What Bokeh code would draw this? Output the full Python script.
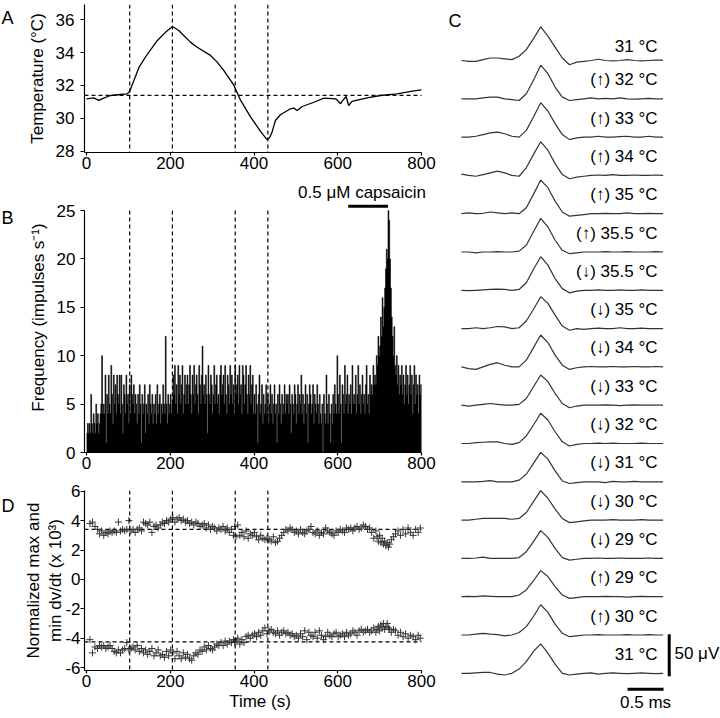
import numpy as np
from bokeh.plotting import figure
from bokeh.layouts import row, column
from bokeh.models import Range1d, FixedTicker, Span
from bokeh.core.properties import value
from bokeh.embed import file_html
from bokeh.resources import INLINE

FONT = "Liberation Sans"
FS = "17px"

# ---------------- data ----------------
EVENT_T = [103, 205, 355, 433]

# Panel A: bath temperature
TEMP_T = [0, 17, 29, 41, 57, 81, 97, 103, 113, 125, 145, 169, 189, 205, 220, 248, 264, 296, 312, 328,
          352, 368, 392, 415, 431, 437, 443, 451, 463, 487, 495, 503, 515, 543, 567, 595, 607, 610, 620, 626,
          634, 670, 702, 742, 778, 800]
TEMP_C = [31.19, 31.25, 31.09, 31.23, 31.39, 31.45, 31.49, 31.65, 32.3, 33.1, 33.9, 34.74, 35.25, 35.59, 35.35,
          34.64, 34.33, 33.83, 33.42, 32.91, 32.0, 31.09, 30.07, 29.22, 28.70, 28.82, 29.16, 29.87, 30.22, 30.58,
          30.62, 30.48, 30.72, 30.98, 31.23, 31.19, 30.89, 31.03, 31.33, 30.78, 31.03, 31.25, 31.39, 31.49, 31.65,
          31.73]
TEMP_BASE = 31.4

# Panel B: firing frequency, 2-s bins
BIN_W = 2
FREQ = [
    2, 3, 2, 3, 2, 6, 3, 2, 4, 3, 2, 5, 3, 4, 2, 3, 4, 5, 10, 4,
    5, 4, 8, 1, 6, 4, 8, 5, 4, 9, 6, 3, 8, 5, 7, 4, 8, 6, 5, 8,
    4, 8, 5, 2, 7, 6, 4, 8, 5, 6, 3, 7, 4, 8, 6, 5, 7, 4, 6, 5,
    3, 6, 4, 7, 5, 1, 6, 4, 5, 7, 2, 5, 4, 6, 3, 7, 5, 4, 6, 3,
    5, 4, 6, 3, 7, 4, 5, 6, 3, 5, 4, 7, 5, 4, 12, 5, 3, 6, 4, 5,
    6, 4, 5, 8, 6, 9, 5, 7, 4, 9, 6, 8, 5, 7, 9, 4, 6, 8, 5, 7,
    8, 5, 7, 9, 6, 4, 8, 6, 9, 5, 7, 8, 6, 4, 9, 7, 5, 8, 11, 6,
    7, 5, 8, 6, 2, 9, 6, 5, 8, 7, 4, 6, 9, 5, 7, 8, 5, 6, 4, 8,
    9, 6, 7, 8, 5, 9, 6, 4, 8, 7, 5, 9, 6, 8, 5, 7, 4, 9, 6, 7,
    8, 5, 9, 6, 7, 4, 9, 8, 5, 7, 9, 6, 4, 8, 6, 9, 5, 7, 8, 4,
    6, 4, 7, 5, 1, 6, 8, 4, 5, 7, 3, 6, 4, 5, 7, 4, 6, 3, 5, 7,
    4, 6, 3, 5, 7, 4, 5, 1, 6, 4, 7, 5, 3, 6, 4, 5, 7, 4, 6, 5,
    6, 4, 7, 5, 2, 6, 5, 4, 7, 6, 3, 5, 7, 4, 6, 5, 8, 4, 6, 3,
    5, 7, 4, 6, 1, 5, 7, 6, 4, 5, 7, 3, 6, 5, 4, 7, 5, 3, 6, 4,
    3, 5, 0, 6, 4, 3, 8, 5, 3, 6, 4, 1, 5, 3, 6, 4, 7, 5, 4, 10,
    6, 4, 8, 5, 1, 7, 6, 4, 9, 5, 6, 8, 4, 6, 5, 7, 4, 9, 5, 6,
    5, 8, 4, 6, 9, 5, 7, 4, 6, 8, 5, 6, 4, 7, 9, 5, 6, 4, 8, 6,
    7, 6, 9, 7, 8, 7, 10, 9, 12, 10, 11, 14, 12, 16, 13, 15, 17, 19, 21, 20,
    25, 24, 20, 17, 14, 12, 10, 13, 9, 8, 10, 7, 9, 6, 8, 7, 9, 6, 8, 5,
    7, 9, 6, 8, 5, 7, 9, 6, 8, 4, 7, 9, 5, 8, 6, 7, 4, 8, 6, 7,
]
CAPS_T = [625, 720]
CAPS_TEXT = "0.5 \u03bcM capsaicin"

# Panel D: normalized max / min dV/dt
D_T = [8, 14, 20, 26, 31, 36, 41, 46, 51, 56,
       61, 66, 71, 76, 81, 86, 91, 96, 101, 106,
       111, 116, 121, 126, 131, 136, 141, 146, 151, 156,
       161, 166, 171, 176, 181, 186, 191, 196, 201, 206,
       211, 216, 221, 226, 231, 236, 241, 246, 251, 256,
       261, 266, 271, 276, 281, 286, 291, 296, 301, 306,
       311, 316, 321, 326, 331, 336, 341, 346, 351, 354,
       357, 361, 366, 371, 376, 381, 386, 391, 396, 401,
       406, 411, 416, 421, 426, 431, 436, 441, 446, 451,
       456, 461, 466, 471, 476, 481, 486, 491, 496, 501,
       506, 511, 516, 521, 526, 531, 536, 541, 546, 551,
       556, 561, 566, 571, 576, 581, 586, 591, 596, 601,
       606, 611, 616, 621, 626, 631, 636, 641, 646, 651,
       656, 661, 666, 671, 676, 681, 686, 691, 694, 697,
       700, 703, 706, 709, 712, 715, 718, 721, 724, 728,
       733, 738, 744, 750, 756, 762, 768, 774, 780, 786,
       792, 797]
MAXDV = [3.8, 3.9, 3.6, 3.4, 3.1, 3.3, 3.0, 3.2, 3.1, 3.3,
         3.2, 3.3, 3.2, 3.9, 3.3, 3.4, 3.3, 3.4, 4.0, 3.3,
         3.4, 3.2, 3.4, 3.5, 3.3, 3.9, 3.8, 3.7, 3.9, 3.2,
         3.6, 3.7, 3.5, 3.7, 3.9, 3.8, 4.0, 3.9, 4.1, 4.2,
         3.9, 4.1, 4.2, 4.0, 4.1, 3.9, 4.0, 3.8, 3.9, 3.7,
         3.9, 3.8, 3.6, 3.7, 3.8, 3.5, 3.7, 3.4, 3.6, 3.5,
         3.3, 3.5, 3.4, 3.6, 3.3, 3.5, 3.2, 3.4, 3.0, 3.6,
         2.9, 3.7, 3.0, 3.2, 2.9, 3.3, 2.8, 3.1, 3.0, 3.2,
         2.9, 2.7, 3.0, 2.8, 2.7, 2.8, 2.7, 2.6, 2.9, 2.5,
         2.6, 2.8, 3.0, 3.2, 3.4, 3.3, 3.5, 3.4, 3.2, 3.3,
         3.1, 3.4, 3.2, 3.1, 3.3, 3.4, 3.6, 3.2, 3.1, 3.3,
         3.0, 3.2, 3.1, 3.5, 3.3, 3.2, 3.1, 3.0, 3.3, 3.2,
         3.4, 3.3, 3.2, 3.5, 3.4, 3.5, 3.3, 3.5, 3.6, 3.4,
         3.5, 3.7, 3.6, 3.4, 3.5, 3.2, 2.8, 3.3, 2.9, 2.6,
         3.0, 2.5, 2.8, 2.4, 2.6, 2.3, 2.5, 2.2, 2.4, 2.7,
         2.9, 3.1, 3.3, 3.0, 3.4, 3.1, 3.5, 3.2, 3.0, 3.4,
         3.2, 3.5]
MINDV = [-4.1, -5.0, -4.6, -4.7, -4.5, -4.6, -4.5, -4.7, -4.6, -4.5,
         -4.7, -4.9, -5.0, -4.8, -5.0, -4.8, -4.7, -4.3, -4.8, -4.7,
         -4.6, -4.8, -4.5, -4.9, -4.7, -5.0, -4.8, -5.1, -4.9, -4.7,
         -5.2, -5.0, -4.8, -5.2, -5.1, -5.3, -4.9, -5.2, -4.8, -5.0,
         -5.4, -4.9, -5.2, -5.4, -5.0, -5.3, -5.1, -5.4, -5.5, -5.2,
         -5.0, -5.1, -4.8, -4.9, -4.6, -4.8, -4.5, -4.7, -4.8, -4.6,
         -4.4, -4.5, -4.3, -4.5, -4.2, -4.4, -4.2, -4.3, -4.1, -4.3,
         -4.2, -4.0, -4.4, -4.1, -4.3, -3.9, -3.8, -4.0, -3.8, -3.7,
         -3.9, -3.6, -3.8, -3.5, -3.3, -3.7, -3.5, -3.4, -3.6, -3.7,
         -3.5, -3.8, -3.6, -3.5, -3.7, -3.6, -3.8, -3.7, -3.9, -3.8,
         -4.0, -3.7, -3.9, -3.5, -4.1, -3.6, -3.8, -3.9, -3.6, -4.0,
         -3.5, -3.8, -4.1, -3.9, -3.6, -3.8, -3.9, -3.7, -3.6, -3.9,
         -3.8, -3.7, -3.9, -3.6, -3.8, -3.7, -3.5, -3.6, -3.8, -3.5,
         -3.4, -3.6, -3.5, -3.4, -3.6, -3.5, -3.3, -3.6, -3.4, -3.2,
         -3.5, -3.1, -3.3, -3.0, -3.4, -3.2, -3.0, -3.3, -3.4, -3.6,
         -3.4, -3.5, -3.8, -3.6, -3.9, -3.7, -4.0, -3.8, -3.9, -4.1,
         -3.8, -4.0]
MAXDV_BASE = 3.41
MINDV_BASE = -4.25

# Panel C: averaged action potentials (ms, uV)
WAVE_T = [0.0, 0.1, 0.2, 0.3, 0.4, 0.5, 0.6, 0.7, 0.8, 0.9, 1.0, 1.1, 1.2, 1.3, 1.4,
          1.5, 1.6, 1.7, 1.8, 1.9, 2.0, 2.1, 2.2, 2.3, 2.4, 2.5, 2.6, 2.7, 2.8]
W01 = [0, -1, -1, 1, 3, 3, 2, 1, 5, 13, 26, 40, 29, 16, 3, -5, -2, -1, 0, 1.5, 0, -0.5, 0, 1, 0, -0.5, 0, 0.5, 0.5]
W02 = [0, 0, 0, 1, 2, 2, 0, -1, -2, 6, 22, 40, 30, 14, 2, -2, -1, 0, 1, 0, 0.5, 0, 1, 0, -0.5, 0, 0.5, 0, 0]
W03 = [0, 0, 1, 3, 5, 6, 4, 1, 0, 8, 24, 41, 31, 16, 3, -3, -1, 0, 0, 1, 0, 0, 0.5, 1, 0, 0, 1, 0, 0]
W04 = [1.5, 0, -1, 1, 3, 5, 3, 0, -1, 9, 25, 40, 30, 14, 1, -4, -2, -1, 0, 0.5, 0, 1, 0, 0, 0.5, 0, 0, 0.5, 0]
W05 = [0, 1, 0, 0.5, 2, 1, 0, 1, 0, 7, 23, 40, 31, 15, 2, -3, -2, -1, 0, 0, 0.5, 0, 0, 1, 0, 0, 0.5, 0, 0]
W06 = [0, 0, -1, 0, 0, 0.5, 0, 0, 1, 8, 24, 40, 30, 14, 2, -2, -1, 0, 0, 0, 0.5, 0, 0, 0.5, 0, 0, 0, 0.5, 0]
W07 = [0, -0.5, 0, 0.5, 1, 1.5, 1, 0, 1, 9, 25, 40, 30, 14, 2, -3, -1, 0, 0, 0.5, 0, 0, 0.5, 0, 0, 0.5, 0, 0, 0]
W08 = [0, 0, 1, 0, 1, 2.5, 2, 0, 1, 9, 23, 38, 30, 16, 3, -2, 0, -1, 0, 0.5, 0, 0, 1, 0, 0, 0.5, 0, 0, 0]
W09 = [0, -2, -3, 0, 3, 5, 2, 0, 0, 8, 23, 38, 29, 14, 2, -3, -1, 0, 0.5, 0, 0, 0.5, 0, 0, 0.5, 0, 0, 0.5, 0]
W10 = [0, -1, 0, 1, 2, 1, 0, 0, 1, 8, 22, 36, 28, 14, 2, -3, -1, 0, 0, 0, 0.5, 0, -0.5, 0, 0.5, 0, 0, 0, 0]
W11 = [0, 0, 1, 1.5, 2, 2, 0, -1, 1, 9, 22, 36, 28, 14, 2, -3, -1, 0, 0, 0.5, 0, 0.5, 0, 0, 0, 0.5, 0, 0, 0]
W12 = [0, 0, 0, 0.5, 1.5, 0, 0, 0, 2, 9, 22, 35, 27, 13, 1, -2, -1, 0, 0, 0, -1, 0.5, 0, 0, 0.5, 0, 0, 0, 0]
W13 = [0, 0, 1, 2, 2, 2, 2, 1, 2, 9, 22, 35, 26, 13, 2, -3, -2, -1, 0, 0, 0, 0.5, 0, 0, 0, 0.5, 0, 0, 0]
W14 = [0, 0, 0.5, 1.5, 0, 0, 0, 0, 1, 8, 20, 33, 25, 12, 1, -2, -1, 0, 0, 0.5, 0, 0, 0.5, 0, 0, 0, 0.5, 0, 0]
W15 = [0, 0.5, 0, 1, 0.5, 0, 0, 0, 2, 8, 19, 31, 24, 12, 2, -2, -1, 0, 0, 0, 0.5, 0, 0, -0.5, 0, 0.5, 0, 0, 0]
W16 = [0, 0, 1, 2, 1, 0.5, -1, 0, 3, 10, 22, 36, 27, 13, 2, -2, -1, 0, 0, 0.5, 0, 0, 0, 0.5, 0, 0, 0.5, 0, 0]
W17 = [0, 0, 0.5, 1, 1, -1, -2, 0, 5, 14, 26, 35, 24, 11, 0, -2, -1, 0, 0.5, -1, 0, 0.5, 0, -0.5, 0, 0.5, 0, -0.5, 0]
WAVES = [W01, W02, W03, W04, W05, W06, W07, W08, W09, W10, W11, W12, W13, W14, W15, W16, W17]
UP, DN = "\u2191", "\u2193"
WAVE_LABELS = ["31 \u00b0C", f"({UP}) 32 \u00b0C", f"({UP}) 33 \u00b0C", f"({UP}) 34 \u00b0C",
               f"({UP}) 35 \u00b0C", f"({UP}) 35.5 \u00b0C", f"({DN}) 35.5 \u00b0C", f"({DN}) 35 \u00b0C",
               f"({DN}) 34 \u00b0C", f"({DN}) 33 \u00b0C", f"({DN}) 32 \u00b0C", f"({DN}) 31 \u00b0C",
               f"({DN}) 30 \u00b0C", f"({DN}) 29 \u00b0C", f"({UP}) 29 \u00b0C", f"({UP}) 30 \u00b0C",
               "31 \u00b0C"]
PANEL_LETTERS = ["A", "B", "D"]

# ---------------- layout ----------------
TOTAL_W, TOTAL_H = 720, 718
STRIP_W = 16
LEFT_W = 430
FR_L = 68
PLOT_W = 337                     # px spanned by -5 .. 800 s
X_LO, X_HI = -5, 800
PX_S = PLOT_W / (X_HI - X_LO)
EXTRA_PX = 14                    # room right of 800 s for the capsaicin label
FR_R = LEFT_W - FR_L - PLOT_W - EXTRA_PX
XR = (X_LO, X_HI + EXTRA_PX / PX_S)
C_W = TOTAL_W - STRIP_W - LEFT_W


def style(p):
    p.grid.visible = False
    p.outline_line_color = None
    for ax in p.axis:
        ax.axis_line_width = 1.2
        ax.axis_line_color = "black"
        ax.major_tick_line_width = 1.2
        ax.major_tick_line_color = "black"
        ax.major_tick_in = 0
        ax.major_tick_out = 4
        ax.minor_tick_line_color = None
        ax.major_label_text_font = FONT
        ax.major_label_text_font_size = FS
        ax.major_label_text_color = "black"
        ax.axis_label_text_font = FONT
        ax.axis_label_text_font_size = FS
        ax.axis_label_text_font_style = "normal"
        ax.axis_label_text_color = "black"
    p.xaxis.major_tick_out = 3
    p.xaxis.major_label_standoff = 1
    p.xaxis.ticker = FixedTicker(ticks=[0, 200, 400, 600, 800])
    p.xaxis.bounds = (X_LO, X_HI)


def base_fig(height, yr, top, bottom):
    p = figure(width=LEFT_W, height=height, x_range=Range1d(*XR), y_range=Range1d(*yr),
               output_backend="svg", toolbar_location=None,
               min_border_left=FR_L, min_border_right=FR_R,
               min_border_top=top, min_border_bottom=bottom,
               background_fill_color="white", border_fill_color="white")
    style(p)
    return p


DASH = dict(line_color="black", line_dash="4 3", line_width=1.2)


def hdash(p, level):
    p.segment(x0=[X_LO], y0=[level], x1=[X_HI], y1=[level], **DASH)


# ---- letters strip ----
pL = figure(width=STRIP_W, height=TOTAL_H, x_range=Range1d(0, STRIP_W), y_range=Range1d(TOTAL_H, 0),
            x_axis_location=None, y_axis_location=None, output_backend="svg", toolbar_location=None,
            min_border=0, min_border_left=0, min_border_right=0, min_border_top=0, min_border_bottom=0,
            background_fill_color="white", border_fill_color="white")
pL.grid.visible = False
pL.outline_line_color = None
pL.text(x=[1, 1, 1], y=[17, 217, 505], text=PANEL_LETTERS, text_align="left", text_baseline="alphabetic",
        text_font=value(FONT), text_font_size=value("18px"), text_color="black")

# ---- Panel A ----
YA = (27.92, 36.93)
pA = base_fig(182, YA, 4, 30)
pA.yaxis.ticker = FixedTicker(ticks=[28, 30, 32, 34, 36])
pA.yaxis.axis_label = "Temperature (\u00b0C)"
pA.yaxis.major_label_standoff = 6
pA.yaxis.axis_label_standoff = 6
for t in EVENT_T:
    pA.add_layout(Span(location=t, dimension="height", **DASH))
hdash(pA, TEMP_BASE)
pA.line(TEMP_T, TEMP_C, line_color="black", line_width=1.3)

# ---- Panel B ----
YB = (0, 27.9)
pB = base_fig(296, YB, 0, 26)
pB.yaxis.ticker = FixedTicker(ticks=[0, 5, 10, 15, 20, 25])
pB.yaxis.bounds = (0, 25)
pB.yaxis.axis_label = "Frequency (impulses s\u207b\u00b9)"
pB.yaxis.major_label_standoff = 5
pB.yaxis.axis_label_standoff = 6
edges = list(np.arange(0, BIN_W * len(FREQ) + 1, BIN_W))
heights = FREQ + [FREQ[-1]]
pB.varea_step(x=edges, y1=0, y2=heights, step_mode="after", fill_color="black")
pB.step(x=edges, y=heights, mode="after", line_color="black", line_width=0.6)
pB.segment(x0=EVENT_T, y0=[0] * len(EVENT_T), x1=EVENT_T, y1=[25] * len(EVENT_T), **DASH)
pB.line(CAPS_T, [25.45, 25.45], line_color="black", line_width=3)
pB.text(x=[658], y=[26.87], text=[CAPS_TEXT], text_font=value(FONT), text_font_size=value(FS),
        text_align="center", text_baseline="middle", text_color="black")

# ---- Panel D ----
YD = (-6.2, 6.05)
pD = base_fig(240, YD, 12, 48)
pD.yaxis.ticker = FixedTicker(ticks=[-6, -4, -2, 0, 2, 4, 6])
pD.yaxis.major_label_overrides = {-6: "-6", -4: "-4", -2: "-2"}
pD.yaxis.axis_label = "Normalized max and\nmin dv/dt (x 10\u00b3)"
pD.xaxis.axis_label = "Time (s)"
pD.yaxis.major_label_standoff = 0
pD.yaxis.axis_label_standoff = -3
pD.xaxis.axis_label_standoff = 2
for t in EVENT_T:
    pD.add_layout(Span(location=t, dimension="height", **DASH))
hdash(pD, MAXDV_BASE)
hdash(pD, MINDV_BASE)
pD.scatter(D_T, MAXDV, marker="cross", size=7, line_color="#333333", line_width=1)
pD.scatter(D_T, MINDV, marker="cross", size=7, line_color="#333333", line_width=1)

# ---- Panel C ----
PX_MS, PX_UV = 72.0, 0.84
T0_PX = 15                      # trace start, px from the panel's left edge
XC = (-T0_PX / PX_MS, (C_W - T0_PX) / PX_MS)
YC_TOP = 60 / PX_UV             # first baseline 60 px below the top
YC = (YC_TOP - TOTAL_H / PX_UV, YC_TOP)
SPACING = 38.3 / PX_UV
pC = figure(width=C_W, height=TOTAL_H, x_range=Range1d(*XC), y_range=Range1d(*YC),
            x_axis_location=None, y_axis_location=None, output_backend="svg",
            toolbar_location=None, min_border=0, min_border_left=0, min_border_right=0,
            min_border_top=0, min_border_bottom=0,
            background_fill_color="white", border_fill_color="white")
pC.grid.visible = False
pC.outline_line_color = None
offs = [-i * SPACING for i in range(len(WAVES))]
pC.multi_line(xs=[WAVE_T] * len(WAVES), ys=[[v + o for v in w] for w, o in zip(WAVES, offs)],
              line_color="#333333", line_width=1.2)
label_dy = [14 / PX_UV] + [19 / PX_UV] * (len(WAVES) - 1)
pC.text(x=[2.722] * len(WAVES), y=[o + d for o, d in zip(offs, label_dy)], text=WAVE_LABELS,
        text_align="right", text_baseline="middle", text_font=value(FONT),
        text_font_size=value(FS), text_color="black")
last = offs[-1]
pC.line([2.885, 2.885], [last - 3.6, last + 46.4], line_color="black", line_width=3)
pC.line([2.306, 2.806], [last - 19, last - 19], line_color="black", line_width=3)
pC.text(x=[2.958], y=[last + 23.8], text=["50 \u03bcV"], text_align="left", text_baseline="middle",
        text_font=value(FONT), text_font_size=value(FS), text_color="black")
pC.text(x=[2.556], y=[last - 34.5], text=["0.5 ms"], text_align="center", text_baseline="middle",
        text_font=value(FONT), text_font_size=value(FS), text_color="black")
pC.text(x=[XC[0] + 2 / PX_MS], y=[YC_TOP - 20 / PX_UV], text=["C"], text_align="left",
        text_baseline="alphabetic", text_font=value(FONT), text_font_size=value("18px"), text_color="black")

layout = row(pL, column(pA, pB, pD), pC)
open("out.html", "w").write(file_html(layout, INLINE))
